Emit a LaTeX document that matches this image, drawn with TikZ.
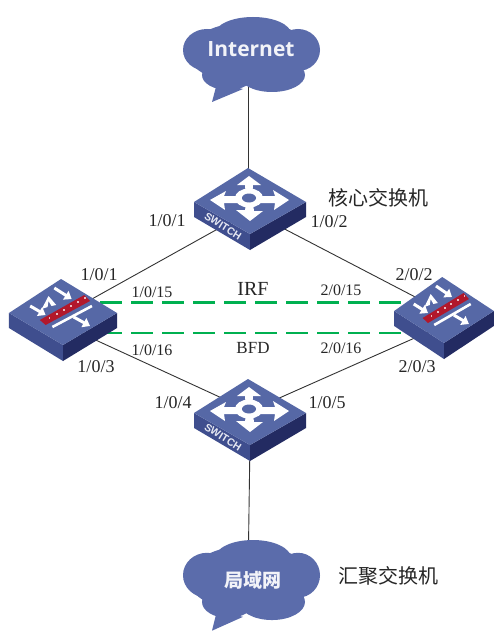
\documentclass[tikz,border=0pt]{standalone}
\usepackage{fontspec}
\setmainfont{Liberation Serif}
\newfontfamily\cjk{Noto Sans CJK SC}
\newfontfamily\cloudfont{Open Sans}
\newfontfamily\swfont{Liberation Sans}
\usetikzlibrary{arrows.meta}
\definecolor{facetop}{HTML}{5668A6}
\definecolor{faceleft}{HTML}{3F4E8E}
\definecolor{faceright}{HTML}{232B62}
\definecolor{cloudblue}{HTML}{5B6CAB}
\definecolor{irfgreen}{HTML}{00B050}
\definecolor{barred}{HTML}{B2182B}
\tikzset{
  x=1pt,y=-1pt,
  wire/.style={draw=black!80,line width=0.9pt},
  greenlink/.style={draw=irfgreen,line width=2.4pt,dash pattern=on 22pt off 9pt},
  bigport/.style={inner sep=0pt,font=\fontsize{18}{18}\selectfont,text=black!85},
  smallport/.style={inner sep=0pt,font=\fontsize{16}{16}\selectfont,text=black!85},
  rolelabel/.style={inner sep=0pt,font=\cjk\fontsize{20}{20}\selectfont,text=black!85},
  whitearrow/.style={draw=white,line width=3pt,-{Triangle[width=10pt,length=7pt]}},
}
% device body shared by switch and firewall
\newcommand{\devbody}{%
  \fill[faceleft] (-56,1) -- (0,33) -- (0,49) -- (-56,16) -- cycle;
  \fill[faceright] (56,1) -- (0,33) -- (0,49) -- (56,16) -- cycle;
  \fill[facetop] (-56,1) -- (-2,-33) -- (56,1) -- (0,33) -- cycle;
}
\newcommand{\switchicon}[2]{%
\begin{scope}[shift={(#1,#2)}]
  \devbody
  \begin{scope}[shift={(-1,-3)}]
    \fill[white] (0,-22) -- (12,-13) -- (4,-13) -- (3.5,-6) -- (-3.5,-6) -- (-4,-13) -- (-12,-13) -- cycle;
    \fill[white] (1,23) -- (14,13) -- (5,13) -- (4,6) -- (-3,6) -- (-4,12) -- (-13,12) -- cycle;
    \fill[white] (40,2) -- (24,-8) -- (26,-2) -- (11,-2) -- (11,5) -- (26,5) -- (25,12) -- cycle;
    \fill[white] (-39,2) -- (-23,-7) -- (-25,-2) -- (-11,-2) -- (-11,5) -- (-25,5) -- (-24,12) -- cycle;
    \fill[white] (0,0) ellipse [x radius=14,y radius=9.5];
    \fill[facetop] (0,0) ellipse [x radius=7,y radius=4.5];
  \end{scope}
  \node[rotate=-32,text=white!85!facetop,inner sep=0pt,font=\swfont\bfseries\fontsize{10.5}{10.5}\selectfont] at (-27,25) {SWITCH};
\end{scope}}
\newcommand{\firewallicon}[3]{%
\begin{scope}[shift={(#1,#2)},xscale=#3]
  \devbody
  \draw[whitearrow] (-34,-6) -- (-18,3);
  \draw[whitearrow] (-9,-24) -- (9,-13);
  \fill[white] (-15,-16) -- (-22,-3) -- (-16,-5) -- (-15,-11) -- (-12,-6) -- (-7,-7) -- cycle;
  \fill[barred] (-24,8) -- (22,-17) -- (28,-11) -- (-18,13) -- cycle;
  \foreach \k in {0,1,2,3,4,5}
    \fill[white!70!barred] ({-15+\k*7.4},{4.5-\k*3.9}) rectangle ++(2,2);
  \draw[white,line width=2.6pt] (-11,15) -- (30,-6);
  \draw[whitearrow] (11,5) -- (28,14);
\end{scope}}
\newcommand{\cloudicon}[2]{%
\begin{scope}[shift={(0,#1)},yscale=#2]
  \fill[cloudblue] (253,17) ellipse [x radius=38,y radius=17];
  \fill[cloudblue] (207,33) ellipse [x radius=24,y radius=21];
  \fill[cloudblue] (298,33) ellipse [x radius=22,y radius=21];
  \fill[cloudblue] (228,58) ellipse [x radius=26,y radius=15];
  \fill[cloudblue] (272,58) ellipse [x radius=33,y radius=17];
  \fill[cloudblue] (250,36) ellipse [x radius=62,y radius=31];
  \fill[cloudblue] (217,66) -- (212,85) -- (243,72) -- cycle;
\end{scope}}
\begin{document}
\begin{tikzpicture}
\useasboundingbox (0,0) rectangle (494,631);
\fill[white] (0,0) rectangle (494,631);
% anchors
\coordinate (inet) at (248,50);
\coordinate (lan) at (248,580);
\coordinate (coreup) at (248,190);
\coordinate (core) at (250,211);
\coordinate (aggr) at (250,411);
\coordinate (aggrdown) at (250,440);
\coordinate (lfwup) at (65,314);
\coordinate (lfwdown) at (63,325);
\coordinate (rfwup) at (444,312);
\coordinate (rfwdown) at (444,325);
\coordinate (irfa) at (100,302.5);
\coordinate (irfb) at (415,302.5);
\coordinate (bfda) at (100,333);
\coordinate (bfdb) at (405,333);
% connectors
\draw[wire] (inet) -- (coreup);
\draw[wire] (core) -- (lfwup);
\draw[wire] (core) -- (rfwup);
\draw[wire] (aggr) -- (lfwdown);
\draw[wire] (aggr) -- (rfwdown);
\draw[wire] (aggrdown) -- (lan);
\draw[greenlink] (irfa) -- (irfb);
\draw[greenlink] (bfda) -- (bfdb);
% icons
\cloudicon{17}{1}
\cloudicon{540}{1.067}
\switchicon{250}{201}
\switchicon{250}{412}
\firewallicon{63}{312}{0.965}
\firewallicon{444}{310}{0.89}
% labels
\node[inner sep=0pt,text=white!92!cloudblue,font=\cloudfont\bfseries\fontsize{21}{21}\selectfont] (tinet) at (251,49) {Internet};
\node[inner sep=0pt,text=white!92!cloudblue,font=\cjk\bfseries\fontsize{19}{19}\selectfont] (tlan) at (253,580) {局域网};
\node[rolelabel] (tcore) at (378,198) {核心交换机};
\node[rolelabel] (taggr) at (388,576) {汇聚交换机};
\node[bigport] (p1) at (167,221) {1/0/1};
\node[bigport] (p2) at (329,222) {1/0/2};
\node[bigport] (p3) at (99,275) {1/0/1};
\node[bigport] (p4) at (96,367) {1/0/3};
\node[bigport] (p5) at (414,275) {2/0/2};
\node[bigport] (p6) at (417,367) {2/0/3};
\node[bigport] (p7) at (173,403) {1/0/4};
\node[bigport] (p8) at (327,403) {1/0/5};
\node[smallport] (s1) at (152,292) {1/0/15};
\node[smallport] (s2) at (152,350) {1/0/16};
\node[smallport] (s3) at (341,290) {2/0/15};
\node[smallport] (s4) at (341,348) {2/0/16};
\node[inner sep=0pt,font=\fontsize{20}{20}\selectfont,text=black!85] (tirf) at (253,289) {IRF};
\node[inner sep=0pt,font=\fontsize{17}{17}\selectfont,text=black!85] (tbfd) at (253,348) {BFD};
\end{tikzpicture}
\end{document}
